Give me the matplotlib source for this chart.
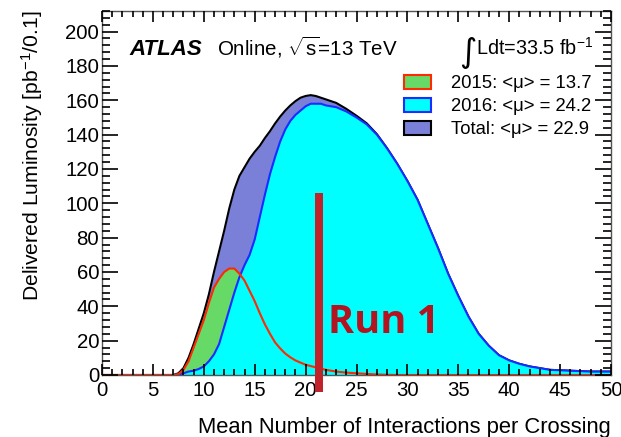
import matplotlib
matplotlib.use("Agg")
import matplotlib.pyplot as plt
from matplotlib.patches import Patch
from matplotlib.ticker import MultipleLocator

plt.rcParams['font.family'] = ['Liberation Sans', 'DejaVu Sans']
plt.rcParams['mathtext.fontset'] = 'custom'
plt.rcParams['mathtext.rm'] = 'Liberation Sans'
plt.rcParams['mathtext.it'] = 'Liberation Sans:italic'
plt.rcParams['mathtext.bf'] = 'Liberation Sans:bold'
plt.rcParams['xtick.direction'] = 'in'
plt.rcParams['ytick.direction'] = 'in'
plt.rcParams['xtick.top'] = True
plt.rcParams['ytick.right'] = True
plt.rcParams['xtick.major.size'] = 8
plt.rcParams['xtick.minor.size'] = 4
plt.rcParams['ytick.major.size'] = 11.5
plt.rcParams['ytick.minor.size'] = 6
for k in ['xtick.major.width', 'xtick.minor.width', 'ytick.major.width', 'ytick.minor.width']:
    plt.rcParams[k] = 1.2
plt.rcParams['xtick.color'] = 'black'
plt.rcParams['ytick.color'] = 'black'

# ---- data ----
mu = [0, 5, 7, 7.5, 8, 8.5, 9, 9.5, 10, 10.5, 11, 11.5, 12, 12.5, 13, 13.5, 14, 14.5,
      15, 15.5, 16, 16.5, 17, 17.5, 18, 18.5, 19, 19.5, 20, 20.5, 21, 21.5,
      22, 23, 24, 25, 26, 27, 28, 29, 30, 31, 32, 33, 34, 35, 36, 37, 38, 39, 40,
      41, 42, 43, 44, 46, 48, 50]
lumi_2015 = [0, 0, 0, 0.5, 3, 8, 16, 24, 32, 42, 51, 56, 60, 62, 62, 59, 55, 49,
             43, 36, 29.5, 24, 19, 15.5, 12.5, 10.3, 8.5, 7.2, 6, 5.2, 4.5, 3.7,
             3, 2, 1.4, 1, 0.6, 0.3, 0.1, 0, 0, 0, 0, 0, 0, 0, 0, 0, 0, 0, 0,
             0, 0, 0, 0, 0, 0, 0]
lumi_2016 = [0, 0, 0, 0.3, 1, 2, 2.5, 3.5, 5, 8, 12, 18, 28, 38, 48, 57, 64, 70,
             79, 92, 105, 117, 127, 136, 143, 148, 151.5, 154, 156.5, 158, 158, 158,
             157, 156, 153.5, 150, 146, 140, 132, 123, 113, 102, 88, 74, 59, 46, 34, 24, 17, 11.5, 8.5,
             6.5, 5, 4, 3, 2.5, 2, 2]
lumi_total = [0, 0, 0, 1, 4, 10, 18, 27, 36, 47, 60, 72, 84, 97, 108, 116, 121, 126,
              130, 133.5, 138, 142, 146.5, 150.5, 154, 157, 159.5, 161.5, 162.5, 163, 162.5, 161.5,
              160.5, 158.5, 155, 151, 146.6, 140.3, 132.1, 123, 113, 102, 88, 74, 59, 46, 34, 24, 17, 11.5, 8.5,
              6.5, 5, 4, 3, 2.5, 2, 2]
legend_labels = ['2015: <\u03bc> = 13.7', '2016: <\u03bc> = 24.2', 'Total: <\u03bc> = 22.9']
run1_mu = [21.3]
run1_low, run1_high = -10, 106

c_total, c_2016, c_2015 = '#7a80d8', '#00ffff', '#66d966'
l_total, l_2016, l_2015 = 'black', '#1a2cff', '#ff2a00'

fig = plt.figure(figsize=(6.21, 4.37), dpi=100)
ax = fig.add_axes([102/621, 1-375/437, 509/621, 364/437])

ax.fill_between(mu, lumi_total, color=c_total, lw=0, zorder=1)
ax.plot(mu, lumi_total, color=l_total, lw=1.5, zorder=2)
ax.fill_between(mu, lumi_2015, color=c_2015, lw=0, zorder=3)
ax.fill_between(mu, lumi_2016, color=c_2016, lw=0, zorder=4)
ax.plot(mu, lumi_2016, color=l_2016, lw=1.5, zorder=5)
ax.plot(mu, lumi_2015, color=l_2015, lw=1.5, zorder=6)

ax.bar(run1_mu, [run1_high - run1_low], bottom=run1_low, width=0.75,
       color='#c1232b', clip_on=False, zorder=12)
ax.text(22.2, 24.5, 'Run 1', color='#b3141f', fontsize=28.5, fontweight='bold',
        family=['Open Sans', 'DejaVu Sans'], ha='left', va='baseline', zorder=12)

ax.set_xlim(0, 50)
ax.set_ylim(0, 212)
ax.xaxis.set_major_locator(MultipleLocator(5))
ax.xaxis.set_minor_locator(MultipleLocator(1))
ax.yaxis.set_major_locator(MultipleLocator(20))
ax.yaxis.set_minor_locator(MultipleLocator(4))
ax.tick_params(axis='x', which='major', pad=4, labelsize=14.7)
ax.tick_params(axis='y', which='major', pad=2, labelsize=14.7)
ax.xaxis.set_zorder(10)
ax.yaxis.set_zorder(10)
for s in ax.spines.values():
    s.set_color('#555555')
    s.set_linewidth(1.0)
    s.set_zorder(10)

fig.text(611/621, 1-433/437, 'Mean Number of Interactions per Crossing',
         ha='right', va='baseline', fontsize=15.8)
fig.text(32/621, 1-10/437, 'Delivered Luminosity [pb$^{-1}$/0.1]',
         rotation=90, ha='center', va='top', fontsize=15.2)

ax.text((129-102)/509, (375-55)/364, 'ATLAS', transform=ax.transAxes,
        fontsize=16, fontweight='bold', fontstyle='italic', va='baseline', ha='left')
ax.text((217-102)/509, (375-55)/364, r'Online, $\sqrt{\mathrm{s}}$=13 TeV', transform=ax.transAxes,
        fontsize=14.8, va='baseline', ha='left')
ax.text((459-102)/509, (375-62)/364, '\u222b', transform=ax.transAxes,
        fontsize=24, family=['DejaVu Sans'], va='baseline', ha='left')
ax.text((593-102)/509, (375-55)/364, 'Ldt=33.5 fb$^{-1}$', transform=ax.transAxes,
        fontsize=14.3, va='baseline', ha='right')

handles = [Patch(facecolor=c_2015, edgecolor=l_2015, lw=1.5),
           Patch(facecolor=c_2016, edgecolor=l_2016, lw=1.5),
           Patch(facecolor=c_total, edgecolor=l_total, lw=1.5)]
ax.legend(handles, legend_labels, loc='upper left', bbox_to_anchor=((404-102)/509, (375-75)/364),
          frameon=False, fontsize=13.3, handlelength=1.45, handleheight=0.78,
          handletextpad=1.1, labelspacing=0.3, borderaxespad=0, borderpad=0)

fig.savefig('out.png', dpi=100)
